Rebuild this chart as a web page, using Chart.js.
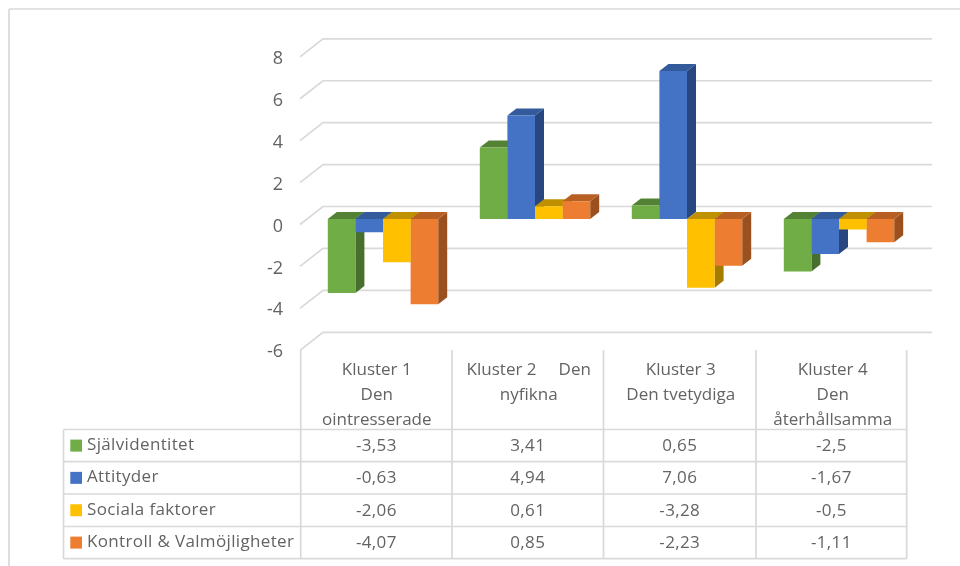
<!DOCTYPE html>
<html>
<head>
<meta charset="utf-8">
<script src="https://cdn.jsdelivr.net/npm/chart.js@4"></script>
<style>
  html, body { margin: 0; background: #fff; }
  canvas { display: block; }
</style>
</head>
<body>
<canvas id="myChart" width="960" height="566"></canvas>
<script>
const categories = [
  ['Kluster 1', 'Den', 'ointresserade'],
  ['Kluster 2     Den', 'nyfikna'],
  ['Kluster 3', 'Den tvetydiga'],
  ['Kluster 4', 'Den', 'återhållsamma']
];
const seriesNames = ['Självidentitet', 'Attityder', 'Sociala faktorer', 'Kontroll & Valmöjligheter'];
const sjalvidentitet = [-3.53, 3.41, 0.65, -2.5];
const attityder = [-0.63, 4.94, 7.06, -1.67];
const socialaFaktorer = [-2.06, 0.61, -3.28, -0.5];
const kontroll = [-4.07, 0.85, -2.23, -1.11];
const seriesValues = [sjalvidentitet, attityder, socialaFaktorer, kontroll];

const frontColors = ['#70ad47', '#4472c4', '#ffc000', '#ed7d31'];
const topColors = ['#548235', '#335a9a', '#bf9000', '#b85f24'];
const sideColors = ['#486f2e', '#284780', '#a67c00', '#9a511f'];

const textColor = '#636363';
const lineColor = '#d9d9d9';
const fontName = '"Open Sans"';

function poly(c, pts, color) {
  c.fillStyle = color;
  c.beginPath();
  pts.forEach((p, i) => i ? c.lineTo(p[0], p[1]) : c.moveTo(p[0], p[1]));
  c.closePath();
  c.fill();
}

function line(c, x1, y1, x2, y2) {
  c.beginPath();
  c.moveTo(x1, y1);
  c.lineTo(x2, y2);
  c.stroke();
}

// back wall lines, then the sides and tops of the bars
const depthPlugin = {
  id: 'depth',
  beforeDatasetsDraw(chart) {
    const c = chart.ctx;
    const y = chart.scales.y;
    c.save();
    c.strokeStyle = lineColor;
    c.lineWidth = 1.7;
    y.ticks.forEach(t => {
      const py = y.getPixelForValue(t.value);
      c.beginPath();
      c.moveTo(300, py + 5.5);
      c.lineTo(323, py - 12.5);
      c.lineTo(932, py - 12.5);
      c.stroke();
    });
    const dx = 9, dy = 7;
    categories.forEach((cat, i) => {
      seriesValues.forEach((vals, s) => {
        const bar = chart.getDatasetMeta(s).data[i];
        const left = bar.x - bar.width / 2;
        const right = bar.x + bar.width / 2;
        const top = Math.min(bar.y, bar.base);
        const bottom = Math.max(bar.y, bar.base);
        poly(c, [[right, top], [right + dx, top - dy], [right + dx, bottom - dy], [right, bottom]], sideColors[s]);
        poly(c, [[left, top], [left + dx, top - dy], [right + dx, top - dy], [right, top]], topColors[s]);
      });
    });
    c.restore();
  }
};

// data table below the chart, with legend swatches
const tablePlugin = {
  id: 'dataTable',
  afterDraw(chart) {
    const c = chart.ctx;
    const colX = [300.7, 452, 603.5, 756, 906.7];
    const rowY = [429.5, 461.7, 494, 526.5, 558.7];
    c.save();
    c.strokeStyle = lineColor;
    c.lineWidth = 1.7;
    // picture frame
    line(c, 9, 9, 960, 9);
    line(c, 9, 9, 9, 566);
    rowY.forEach(y => line(c, 63.5, y, 906.7, y));
    colX.forEach(x => line(c, x, 350, x, 558.7));
    line(c, 63.5, 429.5, 63.5, 558.7);
    c.textBaseline = 'middle';
    c.letterSpacing = '0.35px';
    seriesNames.forEach((name, s) => {
      const mid = (rowY[s] + rowY[s + 1]) / 2;
      c.fillStyle = frontColors[s];
      c.fillRect(70.3, mid - 6, 11.7, 12);
      c.fillStyle = textColor;
      c.font = '17px ' + fontName;
      c.textAlign = 'left';
      c.fillText(name, 87, mid - 0.5);
      c.textAlign = 'center';
      seriesValues[s].forEach((v, i) => {
        c.fillText(String(v).replace('.', ','), (colX[i] + colX[i + 1]) / 2, mid + 0.5);
      });
    });
    c.restore();
  }
};

const ctx = document.getElementById('myChart');
const myChart = new Chart(ctx, {
  type: 'bar',
  data: {
    labels: categories,
    datasets: seriesNames.map((name, s) => ({
      label: name,
      data: seriesValues[s],
      backgroundColor: frontColors[s],
      borderWidth: 0,
      barPercentage: 1,
      categoryPercentage: 0.7263
    }))
  },
  options: {
    responsive: false,
    animation: false,
    layout: { padding: { top: 51.3, right: 45, bottom: 100, left: 0 } },
    plugins: { legend: { display: false }, tooltip: { enabled: false } },
    scales: {
      x: {
        grid: { display: false, drawTicks: false },
        border: { display: false },
        afterFit(scale) { scale.height = 121.2; },
        ticks: {
          autoSkip: false,
          maxRotation: 0,
          minRotation: 0,
          padding: 12.5,
          labelOffset: -6.25,
          color: textColor,
          font: { family: fontName, size: 17, lineHeight: 1.48 }
        }
      },
      y: {
        min: -6,
        max: 8,
        grid: { display: false, drawTicks: false },
        border: { display: false },
        afterFit(scale) { scale.width = 307; },
        ticks: {
          stepSize: 2,
          padding: 24,
          labelOffset: 7.5,
          color: textColor,
          font: { family: fontName, size: 18 }
        }
      }
    }
  },
  plugins: [depthPlugin, tablePlugin]
});
</script>
</body>
</html>
